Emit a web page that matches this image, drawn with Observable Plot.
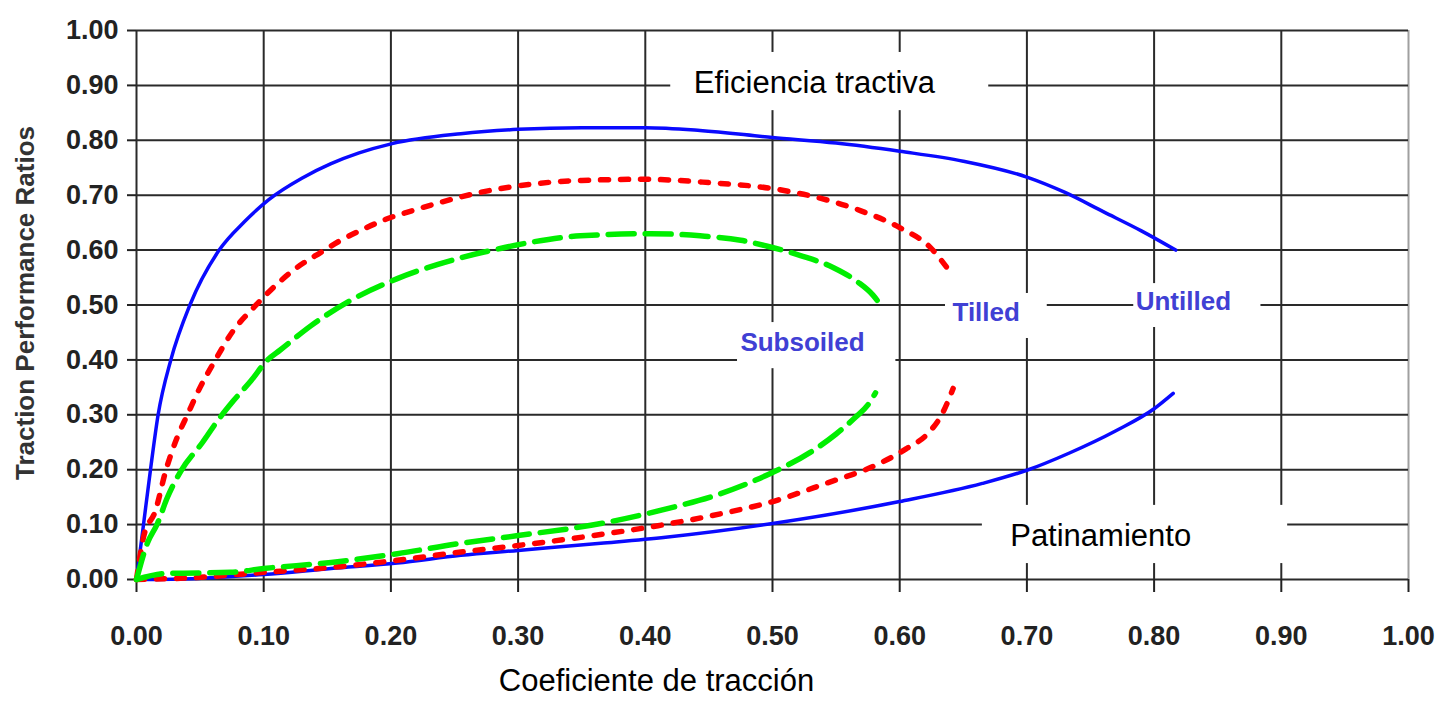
<!DOCTYPE html>
<html><head><meta charset="utf-8">
<script src="https://cdn.jsdelivr.net/npm/d3@7"></script>
<script src="https://cdn.jsdelivr.net/npm/@observablehq/plot@0.6"></script>
<style>body{margin:0;background:#fff;} svg{display:block}</style>
</head><body><div id="chart"></div>
<script>
// ---- data ----
const xTicks = [0, 0.1, 0.2, 0.3, 0.4, 0.5, 0.6, 0.7, 0.8, 0.9, 1.0];
const yTicks = [0, 0.1, 0.2, 0.3, 0.4, 0.5, 0.6, 0.7, 0.8, 0.9, 1.0];

// Untilled (blue solid) – tractive efficiency
const untilledEffX = [0,0.0055,0.011,0.017,0.027,0.042,0.065,0.085,0.104,0.13,0.1525,0.175,0.201,0.255,0.30,0.35,0.40,0.443,0.50,0.55,0.60,0.65,0.70,0.73,0.76,0.79,0.817];
const untilledEffY = [0,0.10,0.20,0.30,0.40,0.50,0.60,0.652,0.692,0.731,0.757,0.777,0.794,0.812,0.82,0.823,0.823,0.818,0.805,0.795,0.78,0.762,0.733,0.705,0.67,0.635,0.60];
// Tilled (red dotted) – tractive efficiency
const tilledEffX = [0,0.0055,0.015,0.023,0.032,0.04,0.05,0.062,0.076,0.092,0.105,0.126,0.145,0.16,0.179,0.197,0.217,0.239,0.27,0.31,0.35,0.40,0.45,0.50,0.535,0.569,0.60,0.624,0.64];
const tilledEffY = [0,0.077,0.126,0.198,0.259,0.30,0.35,0.40,0.453,0.495,0.526,0.568,0.596,0.617,0.639,0.657,0.672,0.687,0.705,0.72,0.727,0.729,0.723,0.712,0.696,0.672,0.641,0.605,0.559];
// Subsoiled (green dashed) – tractive efficiency
const subsoiledEffX = [0,0.0085,0.0165,0.024,0.035,0.052,0.064,0.076,0.09,0.103,0.113,0.137,0.168,0.205,0.237,0.255,0.286,0.312,0.349,0.404,0.443,0.475,0.496,0.522,0.548,0.567,0.579,0.585];
const subsoiledEffY = [0,0.066,0.102,0.148,0.198,0.25,0.29,0.325,0.362,0.40,0.418,0.462,0.508,0.548,0.574,0.586,0.603,0.615,0.626,0.63,0.626,0.618,0.607,0.59,0.568,0.542,0.518,0.50];

// Slip curves
const untilledSlipX = [0,0.048,0.1,0.153,0.205,0.255,0.30,0.365,0.416,0.50,0.60,0.665,0.70,0.733,0.77,0.80,0.815];
const untilledSlipY = [0,0.002,0.009,0.02,0.03,0.044,0.053,0.066,0.077,0.102,0.142,0.175,0.199,0.23,0.271,0.311,0.339];
const tilledSlipX = [0,0.05,0.1,0.153,0.205,0.255,0.30,0.371,0.41,0.464,0.497,0.542,0.581,0.605,0.623,0.633,0.642];
const tilledSlipY = [0,0.004,0.013,0.022,0.035,0.050,0.062,0.084,0.098,0.122,0.14,0.175,0.208,0.238,0.268,0.300,0.348];
const subsoiledSlipX = [0,0.023,0.074,0.1,0.153,0.205,0.255,0.30,0.365,0.419,0.455,0.50,0.53,0.55,0.565,0.575,0.581];
const subsoiledSlipY = [0,0.011,0.013,0.02,0.031,0.047,0.066,0.08,0.102,0.13,0.153,0.195,0.232,0.265,0.295,0.318,0.34];

// Annotation labels (data units) and their white boxes
const soilLabels = ["Subsoiled", "Tilled", "Untilled"];
const soilLabelX = [0.5236, 0.668, 0.823];
const soilLabelY = [0.432, 0.486, 0.506];
const noteLabels = ["Eficiencia tractiva", "Patinamiento"];
const noteLabelX = [0.533, 0.758];
const noteLabelY = [0.905, 0.08];
const boxX1 = [0.42, 0.665, 0.636, 0.784, 0.4725];
const boxX2 = [0.67, 0.905, 0.716, 0.884, 0.597];
const boxY1 = [0.854, 0.029, 0.439, 0.459, 0.384];
const boxY2 = [0.96, 0.135, 0.521, 0.539, 0.468];

const xTitle = "Coeficiente de tracción";
const yTitle = "Traction Performance Ratios";

// ---- build tables ----
const pts = (xs, ys) => xs.map((x, i) => ({x, y: ys[i]}));
const boxes = boxX1.map((d, i) => ({x1: d, x2: boxX2[i], y1: boxY1[i], y2: boxY2[i]}));
const soils = soilLabels.map((t, i) => ({t, x: soilLabelX[i], y: soilLabelY[i]}));
const notes = noteLabels.map((t, i) => ({t, x: noteLabelX[i], y: noteLabelY[i]}));

const font = "'Liberation Sans', Arial, Helvetica, sans-serif";
const fmt = d3.format(".2f");
const curve = "monotone-x";

const blue = {stroke: "#0a0aff", strokeWidth: 3.5, curve};
const red = {stroke: "#ff0000", strokeWidth: 5.5, strokeDasharray: "8,12", curve};
const green = {stroke: "#00ee00", strokeWidth: 5.5, strokeDasharray: "26,11", curve};

const chart = Plot.plot({
  width: 1449,
  height: 702,
  marginLeft: 136,
  marginRight: 41,
  marginTop: 30,
  marginBottom: 123,
  style: {fontFamily: font, background: "#fff", overflow: "visible"},
  x: {domain: [0, 1]},
  y: {domain: [0, 1]},
  marks: [
    Plot.gridX(xTicks.filter(d => d < 1), {stroke: "#2a2a2a", strokeOpacity: 1, strokeWidth: 2}),
    Plot.gridX([1], {stroke: "#a0a0a0", strokeOpacity: 1, strokeWidth: 2}),
    Plot.gridY(yTicks, {stroke: "#2a2a2a", strokeOpacity: 1, strokeWidth: 2}),
    Plot.axisX(xTicks, {tickSize: 13, tickPadding: 33, tickFormat: fmt, fontSize: 27, fontWeight: "bold", color: "#222", strokeWidth: 2, label: null}),
    Plot.axisY(yTicks, {tickSize: 9, tickPadding: 9, tickFormat: fmt, fontSize: 27, fontWeight: "bold", color: "#222", strokeWidth: 2, label: null}),
    Plot.rect(boxes, {x1: "x1", x2: "x2", y1: "y1", y2: "y2", fill: "white"}),
    Plot.line(pts(untilledEffX, untilledEffY), {x: "x", y: "y", ...blue}),
    Plot.line(pts(untilledSlipX, untilledSlipY), {x: "x", y: "y", ...blue}),
    Plot.line(pts(tilledEffX, tilledEffY), {x: "x", y: "y", ...red}),
    Plot.line(pts(tilledSlipX, tilledSlipY), {x: "x", y: "y", ...red}),
    Plot.line(pts(subsoiledEffX, subsoiledEffY), {x: "x", y: "y", ...green}),
    Plot.line(pts(subsoiledSlipX, subsoiledSlipY), {x: "x", y: "y", ...green}),
    Plot.text(soils, {x: "x", y: "y", text: "t", fontSize: 26, fontWeight: "bold", fill: "#4040d4"}),
    Plot.text(notes, {x: "x", y: "y", text: "t", fontSize: 31, fill: "#000"}),
    Plot.text([xTitle], {frameAnchor: "bottom", dy: 111, dx: -116, fontSize: 31, fill: "#000"}),
    Plot.text([yTitle], {frameAnchor: "left", textAnchor: "middle", dx: -111, dy: -2, rotate: -90, fontSize: 26, fontWeight: "bold", fill: "#333"})
  ]
});
document.getElementById("chart").appendChild(chart);
</script>
</body></html>
